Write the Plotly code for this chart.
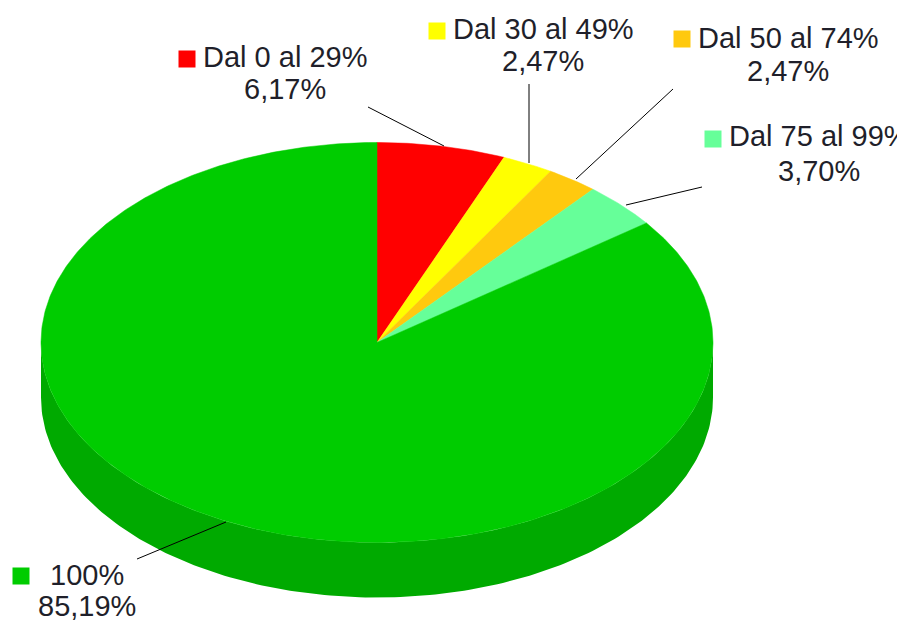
import numpy as np
import plotly.graph_objects as go

categories = ["Dal 0 al 29%", "Dal 30 al 49%", "Dal 50 al 74%", "Dal 75 al 99%", "100%"]
values = [6.17, 2.47, 2.47, 3.70, 85.19]
pct_labels = ["6,17%", "2,47%", "2,47%", "3,70%", "85,19%"]
colors = ["#ff0000", "#ffff00", "#ffc90e", "#66ff99", "#00cc00"]
side_color = "#00aa00"

W, H = 897, 621
CX, CY, RX, RY, DEPTH = 377, 342.5, 336, 200, 55

name_pos = [(285, 57), (543, 29), (788, 38), (819, 136), (87, 575)]
pct_pos = [(285, 89), (543, 61), (788, 71), (819, 171), (87, 606)]
swatch_pos = [(187, 59), (437, 31), (682, 39), (713, 139), (21, 576)]
leaders = [[(368, 107), (444, 146)], [(529, 84), (529, 163)], [(673, 89), (576, 179)],
           [(702, 187), (626, 205)], [(137, 559), (226, 522)]]

fig = go.Figure()

# side wall of the disc (visible lower half)
t = np.radians(np.linspace(90, 270, 181))
xs = CX + RX * np.sin(t)
ys = CY - RY * np.cos(t)
fig.add_trace(go.Scatter(
    x=np.r_[xs, xs[::-1]], y=np.r_[ys, ys[::-1] + DEPTH],
    mode="lines", fill="toself", fillcolor=side_color,
    line=dict(width=0, color=side_color), hoverinfo="skip", showlegend=False))

# top face slices, computed from the values
total = sum(values)
start = 0.0
for name, v, c in zip(categories, values, colors):
    end = start + v / total * 360
    t = np.radians(np.linspace(start, end, max(int(end - start) * 2, 3)))
    x = np.r_[CX, CX + RX * np.sin(t), CX]
    y = np.r_[CY, CY - RY * np.cos(t), CY]
    fig.add_trace(go.Scatter(x=x, y=y, mode="lines", fill="toself", fillcolor=c,
                             line=dict(width=0.5, color=c), name=name,
                             hoverinfo="name", showlegend=False))
    start = end

# leader lines
for seg in leaders:
    fig.add_trace(go.Scatter(x=[p[0] for p in seg], y=[p[1] for p in seg], mode="lines",
                             line=dict(color="#000000", width=1), hoverinfo="skip", showlegend=False))

# swatches
fig.add_trace(go.Scatter(x=[p[0] for p in swatch_pos], y=[p[1] for p in swatch_pos], mode="markers",
                         marker=dict(symbol="square", size=17, color=colors),
                         hoverinfo="skip", showlegend=False))

# labels
font = dict(family="Liberation Sans", size=29, color="#1f1f2a")
for name, pct, (nx, ny), (px, py) in zip(categories, pct_labels, name_pos, pct_pos):
    fig.add_annotation(x=nx, y=ny, text=name, showarrow=False, font=font,
                       xanchor="center", yanchor="middle")
    fig.add_annotation(x=px, y=py, text=pct, showarrow=False, font=font,
                       xanchor="center", yanchor="middle")

fig.update_xaxes(range=[0, W], visible=False, fixedrange=True)
fig.update_yaxes(range=[H, 0], visible=False, fixedrange=True)
fig.update_layout(width=W, height=H, margin=dict(l=0, r=0, t=0, b=0),
                  paper_bgcolor="#ffffff", plot_bgcolor="#ffffff", showlegend=False)
fig.write_html("out.html", config={"displayModeBar": False},
               post_script="document.body.style.margin='0';document.body.style.overflow='hidden';")
